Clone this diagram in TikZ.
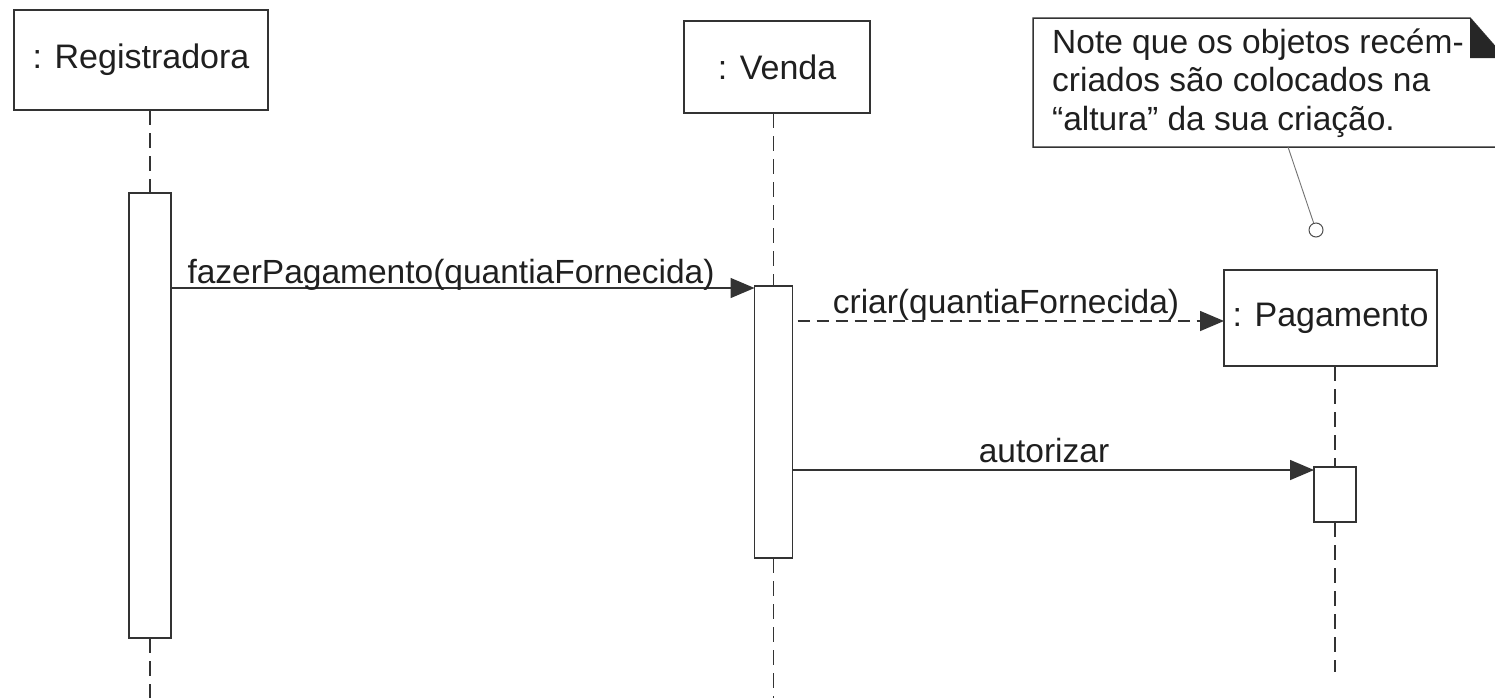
\documentclass[tikz,border=0pt]{standalone}
\usepackage{fontspec}
\setmainfont{Liberation Sans}
\usetikzlibrary{arrows.meta}
\begin{document}
\begin{tikzpicture}[x=1pt,y=-1pt,
  ink/.style={draw=black!80, line width=1.5pt},
  object/.style={ink, fill=white, inner sep=0pt, outer sep=0pt,
    font=\fontsize{34}{40}\selectfont, text=black!88},
  act/.style={ink, fill=white, inner sep=0pt, outer sep=0pt, anchor=north},
  life/.style={draw=black!80, line width=1.5pt, dash pattern=on 15pt off 8pt},
  msg/.style={draw=black!80, line width=1.5pt, -{Triangle[length=24pt,width=20pt]}},
  create/.style={msg, dash pattern=on 12pt off 7pt},
  lbl/.style={font=\fontsize{33.5}{40}\selectfont, text=black!88, inner sep=0pt, anchor=base},
]
\useasboundingbox (0,0) rectangle (1495,697);
\clip (0,0) rectangle (1495,697);

% object heads
\node[object, minimum width=254pt, minimum height=100pt] (reg) at (141,60) {: Registradora};
\node[object, minimum width=186pt, minimum height=92pt] (venda) at (777,67) {: Venda};
\node[object, minimum width=213pt, minimum height=96pt] (pag) at (1330.5,318) {: Pagamento};

% activation bars
\node[act, minimum width=42pt, minimum height=445pt] (actR) at (150,193) {};
\node[act, minimum width=38pt, minimum height=272pt] (actV) at (773.5,286) {};
\node[act, minimum width=42pt, minimum height=55pt] (actP) at (1335,467) {};

% lifelines
\coordinate (endR) at (150,700);
\coordinate (endV) at (773.5,700);
\coordinate (endP) at (1335,672);
\draw[life] (venda.south -| actV.north) -- (actV.north);
\draw[life] (reg.south -| actR.north) -- (actR.north);
\draw[life] (actR.south) -- (endR);
\draw[life] (actV.south) -- (endV);
\draw[life] (pag.south -| actP.north) -- (actP.north);
\draw[life] (actP.south) -- (endP);

% messages
\coordinate (m1) at (0,288);
\coordinate (m2) at (0,321);
\coordinate (m3) at (0,470);
\draw[msg] (actR.east |- m1) -- (actV.west |- m1);
\node[lbl] (l1) at (451,283) {fazerPagamento(quantiaFornecida)};
\draw[create] ([xshift=5pt]actV.east |- m2) -- (pag.west |- m2);
\node[lbl] (l2) at (1006,313) {criar(quantiaFornecida)};
\draw[msg] (actV.east |- m3) -- (actP.west |- m3);
\node[lbl] (l3) at (1044,462) {autorizar};

% note with folded corner
\draw[ink, fill=white] (1033,18) -- (1470,18) -- (1505,58) -- (1510,58) -- (1510,147) -- (1033,147) -- cycle;
\fill[black!85] (1470,18) -- (1470,58) -- (1505,58) -- cycle;
\node[font=\fontsize{33.5}{38.5}\selectfont, text=black!88, inner sep=0pt,
  anchor=north west, align=left] (notetext) at (1052,28.5)
  {Note que os objetos recém-\\criados são colocados na\\“altura” da sua criação.};
\coordinate (notefoot) at (1288,147);
\node[circle, draw=black!70, line width=1pt, fill=white, minimum size=14pt, inner sep=0pt] (pin) at (1316,230) {};
\draw[black!55, line width=0.9pt] (notefoot) -- (pin);
\end{tikzpicture}
\end{document}
